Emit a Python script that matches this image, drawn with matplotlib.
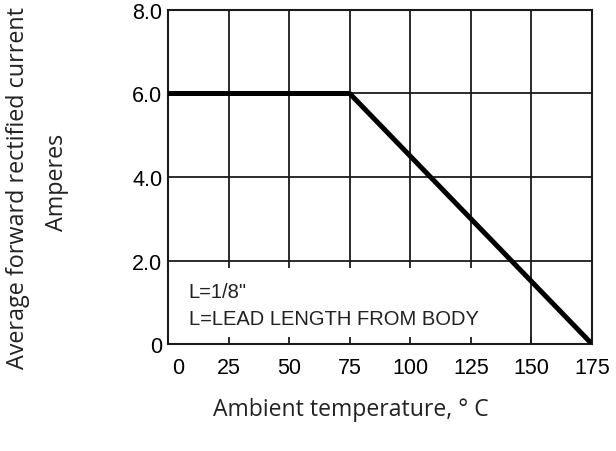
import numpy as np
import matplotlib
matplotlib.use("Agg")
import matplotlib.pyplot as plt
from matplotlib.transforms import ScaledTranslation

# derating curve
temp = [0, 75, 175]
current = [6.0, 6.0, 0.0]

xticks = [0, 25, 50, 75, 100, 125, 150, 175]
yticks = [0, 2, 4, 6, 8]
ylabels = ["0", "2.0", "4.0", "6.0", "8.0"]

note1 = 'L=1/8"'
note2 = "L=LEAD LENGTH FROM BODY"

fig = plt.figure(figsize=(6.16, 4.52), dpi=100)
ax = fig.add_axes([0.2727, 0.2367, 0.6883, 0.739])

gc = "#1a1a1a"
# horizontal grid, full width
for y in [2, 4, 6]:
    ax.axhline(y, color=gc, lw=1.3, zorder=1)
# vertical grid, stops above the note box except at 150
for x in xticks[1:-1]:
    y0 = 0 if x == 150 else 1.83
    ax.vlines(x, y0, 8, color=gc, lw=1.3, zorder=1)

ax.plot(temp, current, color="black", lw=3.6, solid_capstyle="butt", zorder=3)

ax.text(8.6, 1.13, note1, fontsize=14.5, family="Liberation Sans", color="#222222",
        va="baseline", ha="left")
ax.text(8.6, 0.48, note2, fontsize=14.5, family="Liberation Sans", color="#222222",
        va="baseline", ha="left")

ax.set_xlim(0, 175)
ax.set_ylim(0, 8)
ax.set_xticks(xticks)
ax.set_xticklabels([str(v) for v in xticks])
ax.set_yticks(yticks)
ax.set_yticklabels(ylabels)
for lab in ax.get_xticklabels() + ax.get_yticklabels():
    lab.set_family("Liberation Sans")
    lab.set_fontsize(15.5)
ax.tick_params(axis="x", direction="in", length=5, width=1.3, color=gc, pad=9)
ax.tick_params(axis="y", length=0, pad=4)
# the "0" under the x axis sits a bit right of the corner
xl0 = ax.get_xticklabels()[0]
xl0.set_transform(xl0.get_transform() + ScaledTranslation(10 / 100, 0, fig.dpi_scale_trans))
for s in ax.spines.values():
    s.set_color(gc)
    s.set_linewidth(1.5)

fig.text(0.57, 0.093, "Ambient temperature, \u00b0 C", fontsize=16.6, family="Open Sans",
         ha="center", va="center", color="#222222")
fig.text(0.029, 0.584, "Average forward rectified current", fontsize=16.8, family="Open Sans",
         rotation=90, ha="center", va="center", color="#222222")
fig.text(0.093, 0.597, "Amperes", fontsize=16.8, family="Open Sans",
         rotation=90, ha="center", va="center", color="#222222")

fig.savefig("out.png", dpi=100)
